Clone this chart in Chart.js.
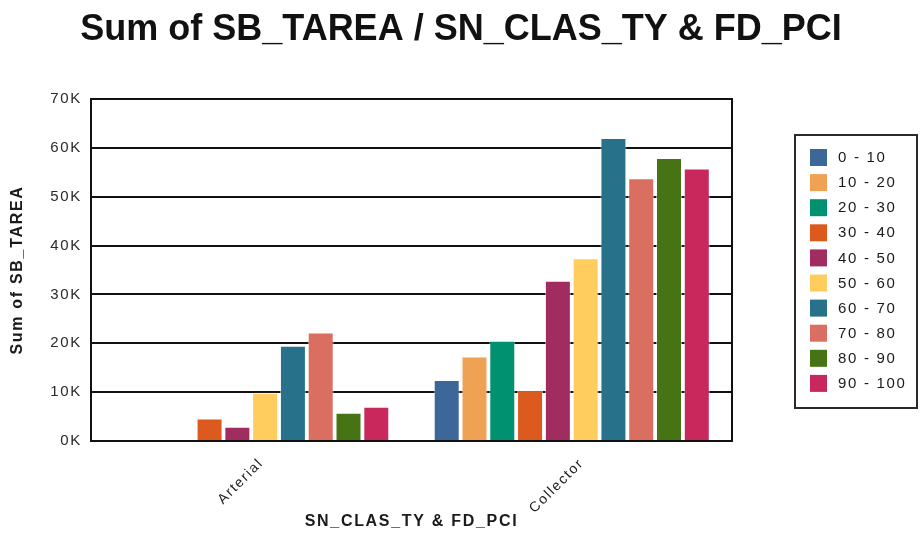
<!DOCTYPE html>
<html>
<head>
<meta charset="utf-8">
<title>Sum of SB_TAREA / SN_CLAS_TY & FD_PCI</title>
<script src="https://cdn.jsdelivr.net/npm/chart.js@4/dist/chart.umd.min.js"></script>
<style>
    html, body { margin: 0; padding: 0; background: #fff; }
    canvas { display: block; }
</style>
</head>
<body>
<canvas id="area-chart" width="922" height="536"></canvas>
<script>
// --- data ---
const CLASS_TYPES = ['Arterial', 'Collector'];
const PCI_BANDS = ['0 - 10', '10 - 20', '20 - 30', '30 - 40', '40 - 50', '50 - 60', '60 - 70', '70 - 80', '80 - 90', '90 - 100'];
const ARTERIAL_AREA = [null, null, null, 4600, 2900, 9900, 19500, 22200, 5800, 7000];
const COLLECTOR_AREA = [12500, 17300, 20500, 10300, 32800, 37400, 62000, 53800, 57900, 55800];
const Y_TICK_VALUES = [0, 10000, 20000, 30000, 40000, 50000, 60000, 70000];

// --- styles ---
const BAND_COLORS = ['#3d6699', '#efa254', '#009270', '#dd5a1f', '#a12c5f', '#ffcc5e', '#27728a', '#da6f61', '#467314', '#c8285b'];
const TEXT_COLOR = '#1a1a1a';
const FONT_FAMILY = '"Liberation Sans", Arial, sans-serif';
const TRACKING = '1.7px';

document.addEventListener('DOMContentLoaded', () => {
    const ctx = document.getElementById('area-chart').getContext('2d');

    const datasets = PCI_BANDS.map((band, i) => ({
        label: band,
        data: [ARTERIAL_AREA[i], COLLECTOR_AREA[i]],
        backgroundColor: BAND_COLORS[i],
        borderColor: 'rgba(255, 255, 255, 0.55)',
        borderWidth: 1,
        categoryPercentage: 0.867,
        barPercentage: 0.935
    }));

    // wide tracking on all axis text, plain spacing for the big title
    const trackingPlugin = {
        id: 'tracking',
        beforeLayout(chart) { chart.ctx.letterSpacing = TRACKING; },
        beforeDraw(chart) { chart.ctx.letterSpacing = TRACKING; }
    };

    // plot frame right edge + title + boxed legend
    const decorPlugin = {
        id: 'decor',
        afterDraw(chart) {
            const c = chart.ctx;
            const area = chart.chartArea;
            c.save();

            c.strokeStyle = '#111';
            c.lineWidth = 2;
            c.beginPath();
            c.moveTo(area.right, area.top - 1);
            c.lineTo(area.right, area.bottom + 1);
            c.stroke();

            c.letterSpacing = '0px';
            c.fillStyle = '#111';
            c.font = `bold 36px ${FONT_FAMILY}`;
            c.textAlign = 'center';
            c.textBaseline = 'alphabetic';
            c.fillText('Sum of SB_TAREA / SN_CLAS_TY & FD_PCI', chart.width / 2, 40);

            // legend
            const boxLeft = area.right + 63;
            const boxTop = 135;
            const boxW = 122;
            const boxH = 273;
            c.strokeStyle = '#2a2a2a';
            c.lineWidth = 2;
            c.strokeRect(boxLeft, boxTop, boxW, boxH);

            c.letterSpacing = TRACKING;
            c.font = `15px ${FONT_FAMILY}`;
            c.textAlign = 'left';
            c.textBaseline = 'middle';
            chart.data.datasets.forEach((ds, i) => {
                const cy = 157 + i * 25.1;
                c.fillStyle = ds.backgroundColor;
                c.fillRect(boxLeft + 15, cy - 8, 17, 17);
                c.fillStyle = TEXT_COLOR;
                c.fillText(ds.label, boxLeft + 43, cy + 1);
            });
            c.restore();
        }
    };

    new Chart(ctx, {
        type: 'bar',
        data: { labels: CLASS_TYPES, datasets },
        plugins: [trackingPlugin, decorPlugin],
        options: {
            responsive: false,
            animation: false,
            layout: { padding: { top: 99, right: 190, bottom: 0, left: 0 } },
            scales: {
                x: {
                    afterFit: scale => { scale.height = 95; },
                    grid: { display: false },
                    border: { display: true, color: '#111', width: 2 },
                    ticks: {
                        color: TEXT_COLOR,
                        font: { family: FONT_FAMILY, size: 14 },
                        minRotation: 45,
                        maxRotation: 45,
                        labelOffset: 10,
                        padding: 6
                    },
                    title: {
                        display: true,
                        text: 'SN_CLAS_TY & FD_PCI',
                        color: TEXT_COLOR,
                        font: { family: FONT_FAMILY, size: 16, weight: 'bold' },
                        padding: { top: 0, bottom: 5 }
                    }
                },
                y: {
                    min: 0,
                    max: 70000,
                    afterFit: scale => { scale.width = 91; },
                    afterBuildTicks: scale => { scale.ticks = Y_TICK_VALUES.map(v => ({ value: v })); },
                    grid: { color: '#111', lineWidth: 2, drawTicks: false },
                    border: { display: true, color: '#111', width: 2 },
                    ticks: {
                        color: '#2a2a2a',
                        font: { family: FONT_FAMILY, size: 15 },
                        padding: 9,
                        callback: value => `${value / 1000}K`
                    },
                    title: {
                        display: true,
                        text: 'Sum of SB_TAREA',
                        color: TEXT_COLOR,
                        font: { family: FONT_FAMILY, size: 16, weight: 'bold' },
                        padding: { top: 8, bottom: 0 }
                    }
                }
            },
            plugins: {
                legend: { display: false },
                title: { display: false },
                tooltip: { enabled: false }
            }
        }
    });
});
</script>
</body>
</html>
